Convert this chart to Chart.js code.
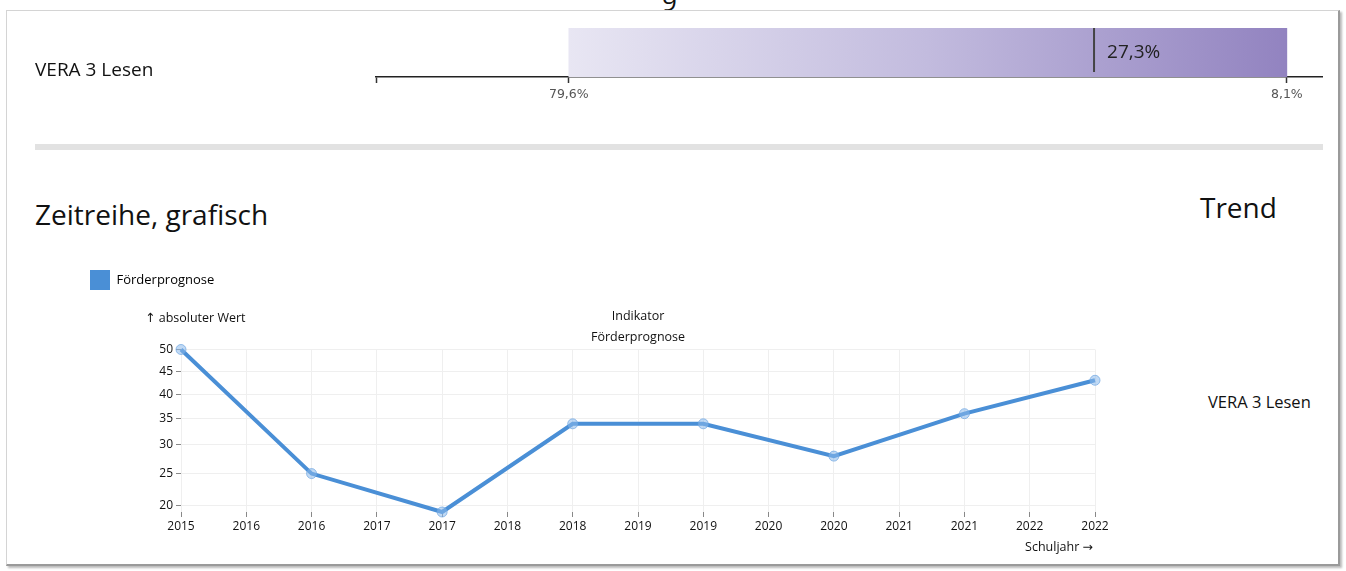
<!DOCTYPE html>
<html>
<head>
<meta charset="utf-8">
<script src="https://cdn.jsdelivr.net/npm/chart.js@4.4.0/dist/chart.umd.min.js"></script>
<style>
  body { margin: 0; width: 1346px; height: 571px; background: #fff; overflow: hidden; position: relative; font-family: 'Open Sans', 'DejaVu Sans', sans-serif; color: #111; }
  .abs { position: absolute; }
  #frame { left: 6px; top: 10px; width: 1331px; height: 553px; border: 1px solid #d4d4d4; border-right: 2px solid #9a9a9a; border-bottom: 2px solid #9a9a9a; box-shadow: 2px 2px 2px #bbb; }
  #pagenum { left: 662px; top: 0; height: 10px; overflow: hidden; font-size: 26px; line-height: 1; }
  #pagenum span { position: relative; top: -12px; }
  #divider { left: 35px; top: 144px; width: 1288px; height: 6px; background: #e2e2e2; }
  .h2 { font-size: 28px; line-height: 1; white-space: nowrap; }
  #side { left: 1208px; top: 394px; font-size: 16.5px; line-height: 1; }
</style>
</head>
<body>
<div id="frame" class="abs"></div>
<div id="pagenum" class="abs"><span>9</span></div>
<div class="abs" style="left:35px; top:18px; width:1305px; height:95px;"><canvas id="bar"></canvas></div>
<div id="divider" class="abs"></div>
<div class="abs h2" style="left:35px; top:200px;">Zeitreihe, grafisch</div>
<div class="abs h2" style="left:1200px; top:193px;">Trend</div>
<div id="side" class="abs">VERA 3 Lesen</div>
<div class="abs" style="left:80px; top:260px; width:1040px; height:298px;"><canvas id="line"></canvas></div>
<script>
// top bar: range of the indicator and the school's value
const barCategory = ['VERA 3 Lesen'];
const barFrom = 79.6;
const barTo = 8.1;
const markerValue = 27.3;
const axisMax = 98.8;
const axisMin = 4.6;

// time series
const years = ['2015', '2016', '2017', '2018', '2019', '2020', '2021', '2022'];
const values = [50, 25, 19, 34, 34, 28, 36, 43];
const xTickLabels = ['2015', '2016', '2016', '2017', '2017', '2018', '2018', '2019',
                     '2019', '2020', '2020', '2021', '2021', '2022', '2022'];
const yTicks = [20, 25, 30, 35, 40, 45, 50];

const pct = v => v.toFixed(1).replace('.', ',') + '%';

// square root scale (like d3.scaleSqrt)
class SqrtScale extends Chart.LinearScale {
  getPixelForValue(value) {
    const a = Math.sqrt(this.min), b = Math.sqrt(this.max);
    return this.getPixelForDecimal((Math.sqrt(value) - a) / (b - a));
  }
  getValueForPixel(pixel) {
    const a = Math.sqrt(this.min), b = Math.sqrt(this.max);
    const s = a + this.getDecimalForPixel(pixel) * (b - a);
    return s * s;
  }
}
SqrtScale.id = 'sqrt';
SqrtScale.defaults = {};
Chart.register(SqrtScale);

const markerPlugin = {
  id: 'marker',
  afterDatasetsDraw(chart) {
    const c = chart.ctx, area = chart.chartArea;
    const x = chart.scales.x.getPixelForValue(markerValue);
    c.save();
    c.strokeStyle = '#444';
    c.lineWidth = 2;
    c.beginPath();
    c.moveTo(x, area.top);
    c.lineTo(x, area.bottom - 5);
    c.stroke();
    c.fillStyle = '#222';
    c.font = "19px 'Open Sans'";
    c.textBaseline = 'middle';
    c.fillText(pct(markerValue), x + 13, area.top + 25);
    c.restore();
  }
};

new Chart(document.getElementById('bar'), {
  type: 'bar',
  data: {
    labels: barCategory,
    datasets: [{
      data: [[barFrom, barTo]],
      barPercentage: 1,
      categoryPercentage: 1,
      borderSkipped: false,
      backgroundColor(ctx) {
        const chart = ctx.chart;
        if (!chart.chartArea) return '#c0b8dc';
        const sx = chart.scales.x;
        const g = chart.ctx.createLinearGradient(sx.getPixelForValue(barFrom), 0, sx.getPixelForValue(barTo), 0);
        g.addColorStop(0, '#e8e6f3');
        g.addColorStop(0.5, '#c2bbde');
        g.addColorStop(1, '#9283c0');
        return g;
      }
    }]
  },
  options: {
    indexAxis: 'y',
    responsive: true,
    maintainAspectRatio: false,
    animation: false,
    layout: { padding: { top: 10, right: 18, left: 0, bottom: 0 } },
    plugins: { legend: { display: false }, tooltip: { enabled: false } },
    scales: {
      y: {
        grid: { display: false },
        border: { display: false },
        ticks: { crossAlign: 'far', labelOffset: 18, color: '#111', font: { family: 'Open Sans', size: 19 } },
        afterFit(s) { s.width = 341; s.paddingTop = 0; s.paddingBottom = 0; }
      },
      x: {
        type: 'linear',
        reverse: true,
        min: axisMin,
        max: axisMax,
        afterBuildTicks(s) { s.ticks = [axisMax, barFrom, barTo].map(v => ({ value: v })); },
        grid: { drawOnChartArea: false, tickLength: 6, tickColor: '#333', tickWidth: 1.5 },
        border: { color: '#222', width: 1.5 },
        ticks: {
          padding: 4,
          color: '#555',
          font: { family: 'DejaVu Sans', size: 12.5 },
          callback: (v, i) => i === 0 ? '' : pct(v)
        },
        afterFit(s) { s.height = 36; }
      }
    }
  },
  plugins: [markerPlugin]
});

const axisTextPlugin = {
  id: 'axisText',
  afterDraw(chart) {
    const c = chart.ctx, area = chart.chartArea;
    c.save();
    c.fillStyle = '#111';
    c.font = "12.5px 'Open Sans', 'DejaVu Sans'";
    c.textBaseline = 'middle';
    c.textAlign = 'left';
    c.fillText('\u2191 absoluter Wert', area.left - 36, area.top - 31);
    c.textAlign = 'right';
    c.fillText('Schuljahr \u2192', area.right - 2, area.bottom + 35);
    c.restore();
  }
};

// put the yearly values on every second half-year tick
const seriesData = xTickLabels.map((l, i) => i % 2 === 0 ? values[i / 2] : null);

new Chart(document.getElementById('line'), {
  type: 'line',
  data: {
    labels: xTickLabels,
    datasets: [{
      label: 'Förderprognose',
      data: seriesData,
      spanGaps: true,
      borderColor: '#4a8fd6',
      backgroundColor: '#4a8fd6',
      borderWidth: 4,
      tension: 0,
      clip: false,
      pointRadius: 5,
      pointBackgroundColor: 'rgba(140,185,235,0.55)',
      pointBorderColor: 'rgba(110,165,225,0.7)',
      pointBorderWidth: 1
    }]
  },
  options: {
    responsive: true,
    maintainAspectRatio: false,
    animation: false,
    layout: { padding: { top: 0, right: 25, left: 0, bottom: 16 } },
    plugins: {
      tooltip: { enabled: false },
      legend: {
        position: 'top',
        align: 'start',
        weight: 3000,
        labels: {
          boxWidth: 20,
          boxHeight: 20,
          padding: 10,
          color: '#222',
          font: { family: 'Open Sans', size: 13 },
          generateLabels: chart => [{ text: 'Förderprognose', fillStyle: '#4a8fd6', strokeStyle: '#4a8fd6', lineWidth: 0, datasetIndex: 0 }]
        }
      },
      title: {
        display: true,
        fullSize: false,
        text: ['Indikator', 'Förderprognose'],
        color: '#111',
        font: { family: 'Open Sans', size: 12.5, weight: 'normal', lineHeight: 1.7 },
        padding: { top: 6, bottom: 1 }
      }
    },
    scales: {
      x: {
        grid: { color: '#efefef', tickColor: '#888', tickLength: 5 },
        border: { display: false },
        ticks: { autoSkip: false, maxRotation: 0, padding: 2, color: '#111', font: { family: 'Open Sans', size: 12 } },
        afterFit(s) { s.height = 30; }
      },
      y: {
        type: 'sqrt',
        min: Math.min(...values),
        max: Math.max(...values),
        afterBuildTicks(s) { s.ticks = yTicks.map(v => ({ value: v })); },
        grid: { color: '#efefef', tickColor: '#888', tickLength: 5 },
        border: { display: false },
        ticks: { padding: 3, color: '#111', font: { family: 'Open Sans', size: 12 }, callback: v => String(v) },
        afterFit(s) { s.width = 101; }
      }
    }
  },
  plugins: [axisTextPlugin]
});
</script>
</body>
</html>
